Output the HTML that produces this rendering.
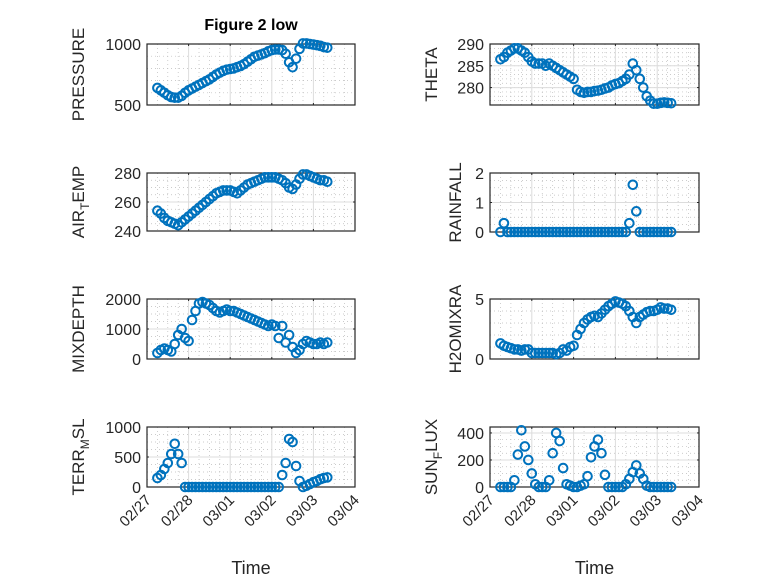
<!DOCTYPE html>
<html><head><meta charset="utf-8"><style>
body{margin:0;background:#fff;}
svg{display:block;font-family:"Liberation Sans","DejaVu Sans",sans-serif;}
</style></head><body>
<svg id="fig" width="778" height="583" viewBox="0 0 778 583" xmlns="http://www.w3.org/2000/svg">
<rect width="778" height="583" fill="#fff"/>
<text x="251" y="30" text-anchor="middle" font-size="16" font-weight="bold" fill="#000">Figure 2 low</text>
</svg>
<script>
const hours=[6,8,10,12,14,16,18,20,22,24,26,28,30,32,34,36,38,40,42,44,46,48,50,52,54,56,58,60,62,64,66,68,70,72,74,76,78,80,82,84,86,88,90,92,94,96,98,100,102,104];
const xTickLabels=["02/27","02/28","03/01","03/02","03/03","03/04"];
const pressure=[640,620,600,580,565,560,560,575,600,620,635,650,665,680,695,710,730,750,765,780,790,795,800,810,820,835,855,875,895,905,915,925,940,950,955,955,950,920,850,810,880,960,1005,1005,1000,995,990,985,975,970];
const airTemp=[254,252,249,247,246,245,244,246,248,250,252,254,256,258,260,262,264,266,267,268,268,268,267,266,268,270,272,273,274,275,276,277,277,277,277,276,275,273,270,269,272,276,279,279,278,277,276,275,275,274];
const mixDepth=[200,300,350,300,250,500,800,1000,700,600,1300,1600,1850,1900,1850,1800,1700,1600,1550,1600,1650,1600,1600,1550,1500,1450,1400,1350,1300,1250,1200,1150,1100,1150,1100,700,1100,550,800,400,200,300,500,600,550,500,500,550,500,550];
const terrMsl=[150,200,300,400,550,720,550,400,0,0,0,0,0,0,0,0,0,0,0,0,0,0,0,0,0,0,0,0,0,0,0,0,0,0,0,0,200,400,800,750,350,100,0,20,50,80,100,130,150,160];
const theta=[286.5,287,288,288.5,289,289,288.5,288,287,286,285.5,285.5,285.5,285,285.5,285,284.5,284,283.5,283,282.5,282,279.5,279,278.8,279,279,279.2,279.3,279.5,279.8,280,280.5,280.8,281,281.5,282,283,285.5,284,282,280,278,277,276.3,276.3,276.5,276.6,276.5,276.4];
const rainfall=[0,0.3,0,0,0,0,0,0,0,0,0,0,0,0,0,0,0,0,0,0,0,0,0,0,0,0,0,0,0,0,0,0,0,0,0,0,0,0.3,1.6,0.7,0,0,0,0,0,0,0,0,0,0];
const h2oMix=[1.3,1.1,1.0,0.9,0.8,0.8,0.7,0.8,0.8,0.5,0.5,0.5,0.5,0.5,0.5,0.5,0.4,0.5,0.8,0.7,1.0,1.1,2.0,2.5,3.0,3.3,3.5,3.6,3.5,3.8,4.1,4.4,4.6,4.8,4.7,4.6,4.4,4.0,3.5,3.0,3.5,3.7,3.9,4.0,4.0,4.1,4.3,4.2,4.2,4.1];
const sunFlux=[0,0,0,0,50,240,420,300,200,100,20,0,0,0,50,250,400,340,140,20,10,0,0,10,20,80,220,300,350,250,90,0,0,0,0,0,20,60,110,160,100,60,10,0,0,0,0,0,0,0];

const NS="http://www.w3.org/2000/svg";
const svg=document.getElementById('fig');
function mk(tag,attrs,parent){const e=document.createElementNS(NS,tag);for(const k in attrs)e.setAttribute(k,attrs[k]);(parent||svg).appendChild(e);return e;}

const panels=[
 {name:'pressure',vals:pressure,x0:147,x1:355,y0:44,y1:105,ymin:500,ymax:1000,ticks:[500,1000],minor:100,label:['PRESSURE'],lx:78,xt:false},
 {name:'air-temp',vals:airTemp,x0:147,x1:355,y0:173,y1:231,ymin:240,ymax:280,ticks:[240,260,280],minor:5,label:['AIR','T','EMP'],lx:78,xt:false},
 {name:'mixdepth',vals:mixDepth,x0:147,x1:355,y0:299,y1:359,ymin:0,ymax:2000,ticks:[0,1000,2000],minor:250,label:['MIXDEPTH'],lx:78,xt:false},
 {name:'terr-msl',vals:terrMsl,x0:147,x1:355,y0:427,y1:487,ymin:0,ymax:1000,ticks:[0,500,1000],minor:125,label:['TERR','M','SL'],lx:78,xt:true},
 {name:'theta',vals:theta,x0:490,x1:699,y0:44,y1:105,ymin:276,ymax:290,ticks:[280,285,290],minor:1,label:['THETA'],lx:431,xt:false},
 {name:'rainfall',vals:rainfall,x0:490,x1:699,y0:173,y1:232,ymin:0,ymax:2,ticks:[0,1,2],minor:0.25,label:['RAINFALL'],lx:455,xt:false},
 {name:'h2omixra',vals:h2oMix,x0:490,x1:699,y0:299,y1:359,ymin:0,ymax:5,ticks:[0,5],minor:1,label:['H2OMIXRA'],lx:455,xt:false},
 {name:'sun-flux',vals:sunFlux,x0:490,x1:699,y0:427,y1:487,ymin:0,ymax:444,ticks:[0,200,400],minor:50,label:['SUN','F','LUX'],lx:431,xt:true}
];

panels.forEach(p=>{
 const g=mk('g',{});
 
 
 const xs=h=>p.x0+(h/24)*(p.x1-p.x0)/5;
 const ys=v=>p.y1-(v-p.ymin)/(p.ymax-p.ymin)*(p.y1-p.y0);
 for(let h=0;h<=120;h+=6){ if(h%24===0)continue;
  mk('line',{x1:xs(h),x2:xs(h),y1:p.y0,y2:p.y1,stroke:'#bbb','stroke-width':0.7,'stroke-dasharray':'1,3'},g);}
 for(let v=Math.ceil(p.ymin/p.minor)*p.minor;v<=p.ymax+1e-9;v+=p.minor){
  mk('line',{x1:p.x0,x2:p.x1,y1:ys(v),y2:ys(v),stroke:'#bbb','stroke-width':0.7,'stroke-dasharray':'1,3'},g);}
 for(let d=1;d<5;d++) mk('line',{x1:xs(d*24),x2:xs(d*24),y1:p.y0,y2:p.y1,stroke:'#dcdcdc','stroke-width':1},g);
 p.ticks.forEach(t=>{ mk('line',{x1:p.x0,x2:p.x1,y1:ys(t),y2:ys(t),stroke:'#dcdcdc','stroke-width':1},g);});
 mk('rect',{x:p.x0,y:p.y0,width:p.x1-p.x0,height:p.y1-p.y0,fill:'none',stroke:'#262626','stroke-width':1.2},g);
 for(let d=0;d<=5;d++){const x=xs(d*24);
  mk('line',{x1:x,x2:x,y1:p.y1,y2:p.y1-2,stroke:'#262626'},g);
  mk('line',{x1:x,x2:x,y1:p.y0,y2:p.y0+2,stroke:'#262626'},g);
  if(p.xt){const t=mk('text',{x:x+5,y:p.y1+14,'text-anchor':'end','font-size':15,fill:'#262626',transform:`rotate(-45 ${x+5} ${p.y1+14})`},g);t.textContent=xTickLabels[d];
   
   }
 }
 p.ticks.forEach(v=>{const y=ys(v);
  mk('line',{x1:p.x0,x2:p.x0+2,y1:y,y2:y,stroke:'#262626'},g);
  mk('line',{x1:p.x1,x2:p.x1-2,y1:y,y2:y,stroke:'#262626'},g);
  const t=mk('text',{x:p.x0-6,y:y+6,'text-anchor':'end','font-size':16,fill:'#262626'},g);t.textContent=v;
  
  
 });
 const cx=p.lx, cy=(p.y0+p.y1)/2;
 const lab=mk('text',{x:cx,y:cy+6,'text-anchor':'middle','font-size':17,fill:'#262626',transform:`rotate(-90 ${cx} ${cy})`},g);
 
 
 if(p.label.length===1){lab.textContent=p.label[0];}
 else{const a=mk('tspan',{},lab);a.textContent=p.label[0];
  const b=mk('tspan',{'font-size':12,dy:5},lab);b.textContent=p.label[1];
  const c=mk('tspan',{dy:-5},lab);c.textContent=p.label[2];}
 p.vals.forEach((v,i)=>{
  const c=mk('circle',{cx:xs(hours[i]),cy:ys(v),r:4.3,fill:'none',stroke:'#0072BD','stroke-width':2},g);
  
  
 });
 if(p.xt){const t=mk('text',{x:(p.x0+p.x1)/2,y:574,'text-anchor':'middle','font-size':18,fill:'#262626'},g);t.textContent='Time';
  
  }
});
</script>
</body></html>
